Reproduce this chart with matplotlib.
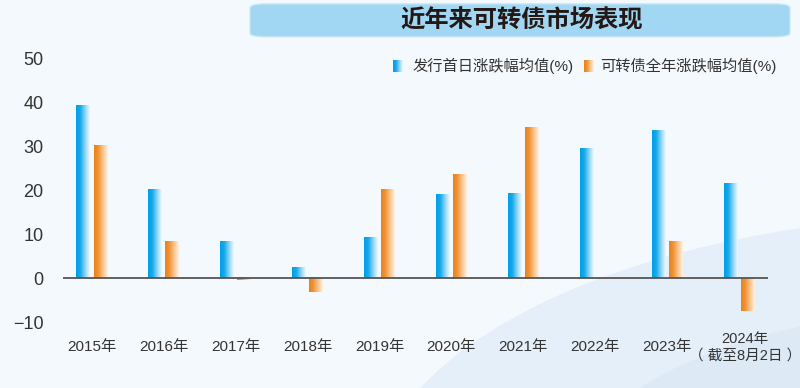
import numpy as np
import matplotlib
matplotlib.use("Agg")
import matplotlib.pyplot as plt
from matplotlib.colors import LinearSegmentedColormap
from matplotlib.patches import FancyBboxPatch, Ellipse
import matplotlib.transforms as mtransforms

plt.rcParams["font.family"] = ["Liberation Sans", "Noto Sans CJK SC", "DejaVu Sans"]

# data
years = ["2015年", "2016年", "2017年", "2018年", "2019年", "2020年",
         "2021年", "2022年", "2023年", "2024年\n（ 截至8月2日 ）"]
first_day = [39.3, 20.2, 8.4, 2.3, 9.3, 19.1, 19.3, 29.5, 33.6, 21.6]
full_year = [30.2, 8.2, -0.5, -3.2, 20.2, 23.6, 34.3, 0.0, 8.2, -7.5]
series_names = ["发行首日涨跌幅均值(%)", "可转债全年涨跌幅均值(%)"]
title = "近年来可转债市场表现"

blue_cm = LinearSegmentedColormap.from_list(
    "b", [(0, "#00A0E6"), (0.3, "#14A8EA"), (0.65, "#8DD3F4"), (1, "#EEF8FE")])
orange_cm = LinearSegmentedColormap.from_list(
    "o", [(0, "#EC8215"), (0.3, "#F09235"), (0.65, "#F8C48E"), (1, "#FEF1E3")])
grad = np.linspace(0, 1, 64).reshape(1, -1)

fig = plt.figure(figsize=(8, 3.88), dpi=100)
fig.patch.set_facecolor("#F4F9FD")

# soft background waves
bg = fig.add_axes([0, 0, 1, 1], zorder=-5)
bg.set_xlim(0, 1)
bg.set_ylim(0, 1)
bg.axis("off")
bg.add_patch(Ellipse((1.15, -0.2), 1.4, 1.25, angle=30, color="#E2EDF8", alpha=0.8, lw=0))
bg.add_patch(Ellipse((1.2, -0.3), 1.0, 1.0, angle=30, color="#D8E5F3", alpha=0.6, lw=0))
bg.add_patch(Ellipse((0.3, -0.3), 1.2, 0.55, color="#EAF1F9", alpha=0.7, lw=0))
bg.add_patch(FancyBboxPatch((0.3125, 0.905), 0.675, 0.085,
                            boxstyle="round,pad=0,rounding_size=0.02",
                            fc="#A2D7F3", ec="#C8E8F8", lw=1.0,
                            mutation_aspect=0.5))
bg.text(0.652, 0.948, title, ha="center", va="center",
        fontsize=17.5, fontweight="bold", color="#231815",
        family=["Noto Sans CJK SC", "DejaVu Sans"])

ax = fig.add_axes([0.07875, 0.170, 0.881, 0.680])
ax.set_facecolor("none")

n = len(years)
w = 0.19
off = 0.12
for i in range(n):
    for val, dx, cm in ((first_day[i], -off, blue_cm), (full_year[i], off, orange_cm)):
        if val == 0:
            continue
        x0 = i + dx - w / 2
        ax.imshow(grad, cmap=cm, aspect="auto", zorder=2,
                  extent=[x0, x0 + w, min(0, val), max(0, val)], interpolation="bilinear")

ax.axhline(0, color="#555555", lw=1.3, zorder=3)
ax.set_xlim(-0.4, n - 0.6)
ax.set_ylim(-10, 50)
ax.set_yticks([-10, 0, 10, 20, 30, 40, 50])
ax.set_xticks(range(n))
ax.set_xticklabels(years, fontsize=11, color="#333333", va="center", linespacing=1.2)
ax.tick_params(axis="x", length=0, pad=18)
ax.tick_params(axis="y", length=0, pad=14, labelsize=13, labelcolor="#333333")
for s in ax.spines.values():
    s.set_visible(False)
lbl = ax.get_xticklabels()[-1]
lbl.set_fontsize(10.5)
lbl.set_transform(lbl.get_transform() + mtransforms.ScaledTranslation(6 / 100, 0, fig.dpi_scale_trans))

# legend
leg_items = [(393, 413, blue_cm, series_names[0]), (584, 600, orange_cm, series_names[1])]
for sx, tx, cm, name in leg_items:
    la = fig.add_axes([sx / 800, (388 - 72) / 388, 10 / 800, 12 / 388])
    la.imshow(grad, cmap=cm, aspect="auto", interpolation="bilinear")
    la.axis("off")
    fig.text(tx / 800, (388 - 66) / 388, name, fontsize=11, color="#333333", va="center")

fig.savefig("out.png", dpi=100, facecolor=fig.get_facecolor())
